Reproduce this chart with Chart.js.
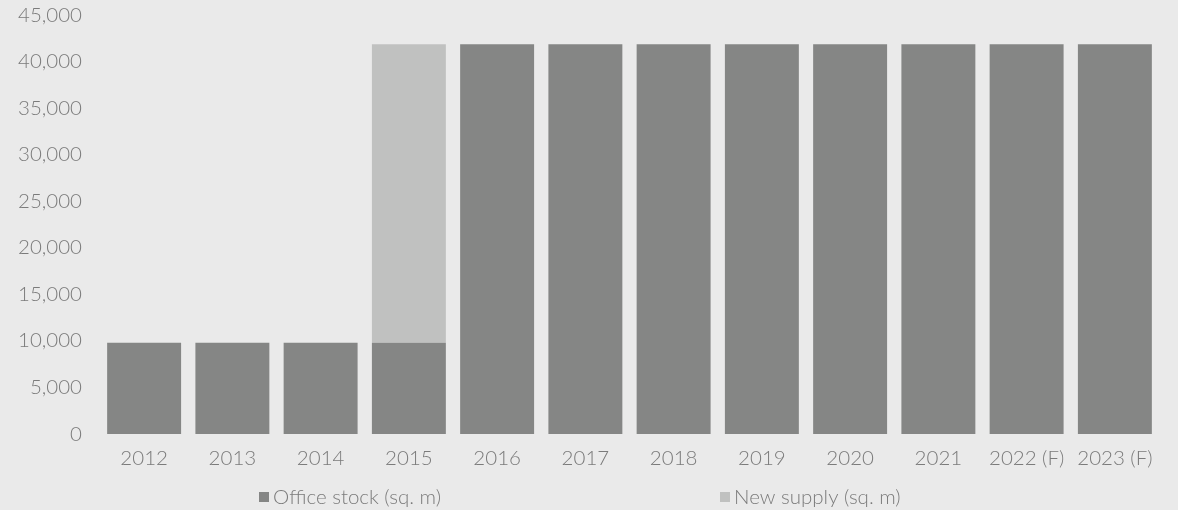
<!DOCTYPE html>
<html>
<head>
<meta charset="utf-8">
<script src="https://cdn.jsdelivr.net/npm/chart.js@4"></script>
<style>
  html, body { margin: 0; padding: 0; background: #eaeaea; }
  #wrap { width: 1178px; height: 510px; position: relative; }
</style>
</head>
<body>
<div id="wrap"><canvas id="officeChart"></canvas></div>
<script>
const years = ["2012", "2013", "2014", "2015", "2016", "2017", "2018", "2019", "2020", "2021", "2022 (F)", "2023 (F)"];
const officeStock = [9800, 9800, 9800, 9800, 41850, 41850, 41850, 41850, 41850, 41850, 41850, 41850];
const newSupply = [0, 0, 0, 32050, 0, 0, 0, 0, 0, 0, 0, 0];
const yTicks = [0, 5000, 10000, 15000, 20000, 25000, 30000, 35000, 40000, 45000];

const textGrey = "#7b7b7b";
const fontFamily = "Lato, 'Open Sans', sans-serif";
const fontSize = 20.5;

// legend drawn under the axis, the two entries spread apart
const bottomLegend = {
    id: "bottomLegend",
    afterDraw(chart, args, opts) {
        const ctx = chart.ctx;
        ctx.save();
        ctx.font = "300 " + fontSize + "px " + fontFamily;
        ctx.textBaseline = "middle";
        chart.data.datasets.forEach(function (ds, i) {
            const x = opts.xs[i];
            const y = opts.y;
            ctx.fillStyle = ds.backgroundColor;
            ctx.fillRect(x, y - 5, 10, 10);
            ctx.fillStyle = textGrey;
            ctx.fillText(ds.label, x + 14, y);
        });
        ctx.restore();
    }
};

const ctx = document.getElementById("officeChart").getContext("2d");

new Chart(ctx, {
    type: "bar",
    data: {
        labels: years,
        datasets: [
            {
                label: "Office stock (sq. m)",
                data: officeStock,
                backgroundColor: "#858685",
                categoryPercentage: 1,
                barPercentage: 0.838,
            },
            {
                label: "New supply (sq. m)",
                data: newSupply,
                backgroundColor: "#c0c1c0",
                categoryPercentage: 1,
                barPercentage: 0.838,
            },
        ],
    },
    options: {
        responsive: true,
        maintainAspectRatio: false,
        animation: false,
        layout: {
            padding: { top: 15, right: 19, bottom: 0, left: 16 },
        },
        plugins: {
            legend: { display: false },
            tooltip: { enabled: false },
            bottomLegend: { xs: [259, 720], y: 497 },
        },
        scales: {
            x: {
                stacked: true,
                grid: { display: false },
                border: { display: false },
                afterFit: function (axis) {
                    axis.height = 76;
                    axis.paddingLeft = 0;
                    axis.paddingRight = 0;
                },
                ticks: {
                    color: textGrey,
                    padding: 4,
                    maxRotation: 0,
                    autoSkip: false,
                    font: { family: fontFamily, size: fontSize, weight: 300 },
                },
            },
            y: {
                stacked: true,
                min: 0,
                max: 45000,
                grid: { display: false },
                border: { display: false },
                afterFit: function (axis) {
                    axis.width = 84;
                    axis.paddingTop = 0;
                    axis.paddingBottom = 0;
                },
                afterBuildTicks: function (axis) {
                    axis.ticks = yTicks.map(function (v) { return { value: v }; });
                },
                ticks: {
                    color: textGrey,
                    padding: 10,
                    font: { family: fontFamily, size: fontSize, weight: 300 },
                    callback: function (v) { return v.toLocaleString("en-US"); },
                },
            },
        },
    },
    plugins: [bottomLegend],
});
</script>
</body>
</html>
